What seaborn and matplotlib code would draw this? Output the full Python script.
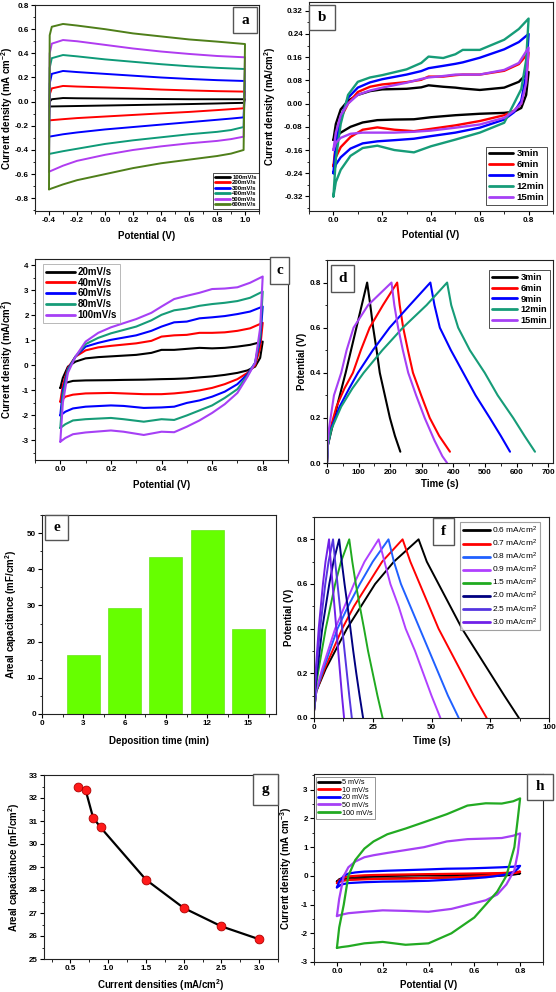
import matplotlib
matplotlib.use("Agg")
import matplotlib.pyplot as plt
import seaborn as sns
from matplotlib.ticker import MultipleLocator, AutoMinorLocator, FormatStrFormatter
from matplotlib.patches import Rectangle

# ---------------- panel a : CV at different scan rates ----------------
a_labels = ["100mV/s", "200mV/s", "300mV/s", "400mV/s", "500mV/s", "600mV/s"]
a_colors = ["#000000", "#FF0000", "#0000FF", "#0E9A78", "#B03CF0", "#4F7F1A"]
a_up_x = [-0.4, -0.395, -0.38, -0.3, -0.2, 0.0, 0.2, 0.4, 0.6, 0.8, 1.0]
a_dn_x = [1.0, 0.99, 0.9, 0.8, 0.6, 0.4, 0.2, 0.0, -0.2, -0.3, -0.4]
a_up = [
    [-0.04, 0.0, 0.02, 0.03, 0.028, 0.026, 0.024, 0.022, 0.02, 0.02, 0.02],
    [-0.155, 0.06, 0.11, 0.13, 0.125, 0.118, 0.11, 0.10, 0.093, 0.087, 0.083],
    [-0.29, 0.15, 0.23, 0.254, 0.245, 0.23, 0.215, 0.20, 0.188, 0.178, 0.171],
    [-0.433, 0.28, 0.36, 0.386, 0.375, 0.35, 0.33, 0.31, 0.293, 0.28, 0.27],
    [-0.58, 0.40, 0.48, 0.51, 0.50, 0.47, 0.44, 0.415, 0.395, 0.378, 0.367],
    [-0.726, 0.55, 0.62, 0.643, 0.63, 0.60, 0.565, 0.54, 0.515, 0.497, 0.477],
]
a_dn = [
    [0.02, -0.01, -0.012, -0.015, -0.02, -0.024, -0.028, -0.032, -0.036, -0.038, -0.04],
    [0.083, -0.055, -0.062, -0.07, -0.085, -0.097, -0.11, -0.123, -0.136, -0.145, -0.155],
    [0.171, -0.13, -0.14, -0.15, -0.17, -0.19, -0.21, -0.23, -0.255, -0.27, -0.29],
    [0.27, -0.21, -0.235, -0.25, -0.27, -0.295, -0.32, -0.35, -0.39, -0.41, -0.433],
    [0.367, -0.29, -0.31, -0.325, -0.345, -0.37, -0.40, -0.44, -0.49, -0.53, -0.58],
    [0.477, -0.40, -0.43, -0.45, -0.48, -0.51, -0.55, -0.60, -0.65, -0.685, -0.726],
]

# ---------------- panel b : CV for deposition times ----------------
b_labels = ["3min", "6min", "9min", "12min", "15min"]
b_colors = ["#000000", "#FF0000", "#0000FF", "#169C78", "#A640F5"]
b_up_x = [0.0, 0.01, 0.03, 0.06, 0.1, 0.15, 0.2, 0.3, 0.36, 0.39, 0.45, 0.5, 0.53, 0.6, 0.7, 0.76, 0.8]
b_dn_x = [0.8, 0.79, 0.77, 0.74, 0.7, 0.6, 0.5, 0.4, 0.33, 0.25, 0.18, 0.12, 0.07, 0.03, 0.01, 0.0]
b_up = [
    [-0.125, -0.07, -0.02, 0.01, 0.03, 0.043, 0.049, 0.051, 0.056, 0.063, 0.058, 0.055, 0.052, 0.047, 0.055, 0.075, 0.109],
    [-0.216, -0.14, -0.05, 0.0, 0.04, 0.058, 0.066, 0.074, 0.082, 0.093, 0.093, 0.098, 0.10, 0.10, 0.113, 0.136, 0.176],
    [-0.24, -0.14, -0.05, 0.02, 0.055, 0.073, 0.084, 0.10, 0.112, 0.122, 0.13, 0.137, 0.142, 0.158, 0.187, 0.212, 0.24],
    [-0.32, -0.19, -0.07, 0.03, 0.075, 0.09, 0.098, 0.118, 0.14, 0.162, 0.157, 0.17, 0.185, 0.185, 0.22, 0.257, 0.293],
    [-0.16, -0.10, -0.04, 0.0, 0.03, 0.045, 0.055, 0.072, 0.085, 0.09, 0.095, 0.10, 0.10, 0.10, 0.116, 0.14, 0.193],
]
b_dn = [
    [0.109, 0.03, -0.015, -0.028, -0.032, -0.035, -0.04, -0.047, -0.054, -0.055, -0.057, -0.065, -0.08, -0.10, -0.115, -0.125],
    [0.176, 0.08, 0.0, -0.025, -0.04, -0.06, -0.075, -0.087, -0.095, -0.09, -0.082, -0.09, -0.115, -0.15, -0.185, -0.216],
    [0.24, 0.10, 0.01, -0.03, -0.055, -0.083, -0.10, -0.112, -0.121, -0.126, -0.13, -0.137, -0.155, -0.185, -0.21, -0.24],
    [0.293, 0.15, 0.05, 0.0, -0.066, -0.10, -0.124, -0.147, -0.168, -0.16, -0.145, -0.153, -0.18, -0.228, -0.27, -0.32],
    [0.193, 0.07, 0.0, -0.025, -0.049, -0.072, -0.083, -0.093, -0.097, -0.10, -0.10, -0.10, -0.104, -0.118, -0.135, -0.16],
]

# ---------------- panel c : CV at 20-100 mV/s ----------------
c_labels = ["20mV/s", "40mV/s", "60mV/s", "80mV/s", "100mV/s"]
c_colors = ["#000000", "#FF0000", "#0000FF", "#169C78", "#A640F5"]
c_up_x = [0.0, 0.01, 0.03, 0.06, 0.1, 0.15, 0.2, 0.3, 0.36, 0.4, 0.45, 0.5, 0.55, 0.6, 0.65, 0.7, 0.75, 0.8]
c_dn_x = [0.8, 0.79, 0.77, 0.74, 0.7, 0.65, 0.6, 0.55, 0.5, 0.45, 0.4, 0.33, 0.25, 0.2, 0.1, 0.05, 0.02, 0.0]
c_up = [
    [-0.9, -0.5, -0.05, 0.15, 0.28, 0.33, 0.36, 0.42, 0.5, 0.62, 0.62, 0.66, 0.70, 0.68, 0.70, 0.75, 0.82, 0.95],
    [-1.45, -0.8, -0.1, 0.35, 0.6, 0.72, 0.78, 0.88, 0.98, 1.15, 1.2, 1.22, 1.3, 1.3, 1.32, 1.38, 1.48, 1.7],
    [-2.0, -1.0, -0.15, 0.35, 0.75, 0.9, 1.02, 1.2, 1.38, 1.55, 1.72, 1.75, 1.88, 1.92, 1.97, 2.05, 2.15, 2.35],
    [-2.5, -1.2, -0.2, 0.35, 0.85, 1.1, 1.28, 1.55, 1.8, 2.02, 2.2, 2.27, 2.38, 2.45, 2.5, 2.57, 2.7, 2.95],
    [-3.05, -1.5, -0.3, 0.35, 0.95, 1.3, 1.52, 1.85, 2.1, 2.35, 2.65, 2.78, 2.9, 3.05, 3.07, 3.12, 3.3, 3.55],
]
c_dn = [
    [0.95, 0.3, -0.05, -0.2, -0.3, -0.38, -0.44, -0.48, -0.52, -0.54, -0.55, -0.57, -0.58, -0.59, -0.6, -0.62, -0.7, -0.9],
    [1.7, 0.7, 0.0, -0.3, -0.55, -0.75, -0.9, -1.0, -1.07, -1.12, -1.15, -1.15, -1.12, -1.1, -1.12, -1.17, -1.25, -1.45],
    [2.35, 1.0, 0.1, -0.35, -0.75, -1.05, -1.25, -1.4, -1.5, -1.65, -1.68, -1.7, -1.62, -1.6, -1.65, -1.72, -1.85, -2.0],
    [2.95, 1.2, 0.1, -0.4, -0.95, -1.3, -1.6, -1.8, -2.0, -2.18, -2.15, -2.25, -2.15, -2.1, -2.15, -2.2, -2.35, -2.5],
    [3.55, 1.5, 0.1, -0.45, -1.1, -1.55, -1.9, -2.2, -2.45, -2.67, -2.65, -2.78, -2.65, -2.6, -2.68, -2.75, -2.9, -3.05],
]

# ---------------- panel d : GCD for deposition times ----------------
d_labels = ["3min", "6min", "9min", "12min", "15min"]
d_colors = ["#000000", "#FF0000", "#0000FF", "#169C78", "#A640F5"]
d_t = [
    [0, 3, 15, 35, 59, 76, 93, 110, 127, 137, 146, 157, 167, 183, 199, 215, 232],
    [0, 3, 10, 30, 55, 82, 107, 135, 177, 222, 230, 241, 256, 272, 298, 325, 355, 389],
    [0, 3, 12, 40, 70, 98, 145, 198, 262, 327, 340, 357, 392, 431, 470, 515, 550, 579],
    [0, 3, 14, 45, 80, 116, 175, 240, 315, 380, 393, 415, 452, 499, 540, 589, 625, 658],
    [0, 2, 6, 22, 45, 62, 84, 130, 204, 213, 225, 240, 257, 282, 309, 340, 365, 380],
]
d_v = [
    [0.0, 0.08, 0.15, 0.27, 0.4, 0.5, 0.6, 0.7, 0.8, 0.7, 0.6, 0.5, 0.4, 0.3, 0.2, 0.12, 0.05],
    [0.0, 0.08, 0.15, 0.25, 0.33, 0.4, 0.5, 0.6, 0.7, 0.8, 0.7, 0.6, 0.5, 0.4, 0.3, 0.2, 0.12, 0.05],
    [0.0, 0.08, 0.15, 0.25, 0.33, 0.4, 0.5, 0.6, 0.7, 0.8, 0.7, 0.6, 0.5, 0.4, 0.3, 0.2, 0.12, 0.05],
    [0.0, 0.08, 0.15, 0.25, 0.33, 0.4, 0.5, 0.6, 0.7, 0.8, 0.7, 0.6, 0.5, 0.4, 0.3, 0.2, 0.12, 0.05],
    [0.0, 0.08, 0.15, 0.3, 0.4, 0.5, 0.6, 0.7, 0.8, 0.7, 0.6, 0.5, 0.4, 0.3, 0.2, 0.1, 0.03, 0.0],
]

# ---------------- panel e : areal capacitance vs deposition time ----------------
e_time = [3, 6, 9, 12, 15]
e_cap = [16.2, 29.3, 43.4, 50.8, 23.5]

# ---------------- panel f : GCD at current densities ----------------
f_labels = ["0.6 mA/cm$^2$", "0.7 mA/cm$^2$", "0.8 mA/cm$^2$", "0.9 mA/cm$^2$",
            "1.5 mA/cm$^2$", "2.0 mA/cm$^2$", "2.5 mA/cm$^2$", "3.0 mA/cm$^2$"]
f_colors = ["#000000", "#FF0000", "#2060FF", "#B040FF", "#20AA20", "#000080", "#5535E0", "#7020E8"]
f_v = [0.03, 0.12, 0.22, 0.4, 0.5, 0.6, 0.7, 0.8, 0.7, 0.6, 0.5, 0.4, 0.3, 0.2, 0.1, 0.0]
f_t = [
    [0, 1, 5, 14, 20, 26, 34, 44.5, 48, 53, 58, 63, 69, 75, 81, 87.2],
    [0, 1, 4.5, 12, 17, 23, 29, 37.7, 41, 45, 49, 53, 58, 63, 68, 73.5],
    [0, 1, 4, 10, 14.5, 19.5, 25, 31.7, 34, 37, 41, 45, 49, 53, 57, 61.6],
    [0, 0.8, 3.5, 9, 13, 17, 21.5, 27.5, 30, 32.5, 36, 39, 43, 46.5, 50, 53.8],
    [0, 0.5, 2, 5, 7, 9, 11.5, 15, 16.3, 17.8, 19.5, 21.3, 23, 25, 27, 29.2],
    [0, 0.4, 1.5, 3.5, 5, 6.5, 8.3, 10.7, 11.8, 13, 14.3, 15.5, 16.7, 18, 19.4, 20.9],
    [0, 0.3, 1, 2.6, 3.7, 4.8, 6.2, 8.1, 9, 10, 11, 12, 13, 14, 15, 16.1],
    [0, 0.2, 0.8, 2, 2.9, 3.8, 4.9, 6.4, 7.1, 7.9, 8.7, 9.5, 10.3, 11.1, 11.9, 12.8],
]

# ---------------- panel g : areal capacitance vs current density ----------------
g_j = [0.6, 0.7, 0.8, 0.9, 1.5, 2.0, 2.5, 3.0]
g_c = [32.48, 32.36, 31.15, 30.72, 28.45, 27.22, 26.42, 25.86]

# ---------------- panel h : CV device ----------------
h_labels = ["5 mV/s", "10 mV/s", "20 mV/s", "50 mV/s", "100 mV/s"]
h_colors = ["#000000", "#FF0000", "#0000FF", "#A640F5", "#22AA22"]
h_up_x = [0.0, 0.01, 0.03, 0.05, 0.08, 0.12, 0.16, 0.22, 0.3, 0.38, 0.48, 0.57, 0.65, 0.72, 0.77, 0.8]
h_dn_x = [0.8, 0.79, 0.775, 0.74, 0.7, 0.65, 0.6, 0.5, 0.4, 0.3, 0.2, 0.12, 0.05, 0.02, 0.0]
h_up = [
    [-0.2, -0.12, -0.06, -0.04, -0.03, -0.02, -0.01, 0.0, 0.01, 0.02, 0.03, 0.04, 0.05, 0.06, 0.07, 0.09],
    [-0.25, -0.15, -0.06, -0.02, 0.0, 0.02, 0.03, 0.04, 0.05, 0.06, 0.07, 0.08, 0.09, 0.10, 0.12, 0.15],
    [-0.4, -0.2, 0.0, 0.08, 0.12, 0.15, 0.16, 0.18, 0.20, 0.22, 0.25, 0.26, 0.28, 0.30, 0.32, 0.35],
    [-1.4, -0.8, 0.0, 0.3, 0.5, 0.65, 0.72, 0.8, 0.9, 1.0, 1.2, 1.28, 1.3, 1.32, 1.4, 1.48],
    [-2.51, -1.8, -1.0, 0.0, 0.55, 0.95, 1.2, 1.45, 1.65, 1.87, 2.15, 2.45, 2.53, 2.52, 2.6, 2.7],
]
h_dn = [
    [0.09, 0.07, 0.05, 0.02, 0.0, -0.02, -0.03, -0.05, -0.07, -0.08, -0.09, -0.10, -0.12, -0.15, -0.2],
    [0.15, 0.12, 0.10, 0.06, 0.03, 0.0, -0.02, -0.05, -0.07, -0.09, -0.10, -0.12, -0.14, -0.18, -0.25],
    [0.35, 0.25, 0.15, 0.05, 0.0, -0.05, -0.08, -0.13, -0.17, -0.19, -0.20, -0.22, -0.25, -0.30, -0.4],
    [1.48, 0.8, 0.2, -0.3, -0.65, -0.85, -0.95, -1.15, -1.25, -1.22, -1.2, -1.25, -1.3, -1.35, -1.4],
    [2.7, 2.0, 1.0, 0.0, -0.55, -1.0, -1.45, -2.0, -2.35, -2.4, -2.3, -2.35, -2.45, -2.48, -2.51],
]

# ======================= styling / drawing =======================
sns.set_theme(style="ticks")
plt.rcParams["font.family"] = ["Liberation Sans", "DejaVu Sans"]
plt.rcParams["font.weight"] = "bold"
plt.rcParams["mathtext.default"] = "regular"
for k in ["text.color", "axes.labelcolor", "xtick.color", "ytick.color", "axes.edgecolor"]:
    plt.rcParams[k] = "black"

W, H = 556, 992
fig = plt.figure(figsize=(W / 100, H / 100), dpi=100)
fig.patch.set_facecolor("white")

TICK_FS = 5.8
LAB_FS = 7.0


def make_axes(l, t, r, b):
    return fig.add_axes([l / W, 1 - b / H, (r - l) / W, (b - t) / H])


def style(ax, xlim, ylim, xmaj, ymaj, xfmt, yfmt, xlabel, ylabel, xl_y, yl_x,
          xminor=2, yminor=2):
    ax.set_xlim(*xlim)
    ax.set_ylim(*ylim)
    ax.xaxis.set_major_locator(MultipleLocator(xmaj))
    ax.yaxis.set_major_locator(MultipleLocator(ymaj))
    ax.xaxis.set_minor_locator(AutoMinorLocator(xminor))
    ax.yaxis.set_minor_locator(AutoMinorLocator(yminor))
    ax.xaxis.set_major_formatter(FormatStrFormatter(xfmt))
    ax.yaxis.set_major_formatter(FormatStrFormatter(yfmt))
    ax.tick_params(which="major", direction="out", length=3, width=0.8,
                   labelsize=TICK_FS, pad=1.5)
    ax.tick_params(which="minor", direction="out", length=1.8, width=0.6)
    for lbl in ax.get_xticklabels() + ax.get_yticklabels():
        lbl.set_fontweight("bold")
    for s in ax.spines.values():
        s.set_visible(True)
        s.set_linewidth(0.8)
        s.set_color("#222222")
    ax.set_xlabel(xlabel, fontsize=LAB_FS, fontweight="bold")
    ax.set_ylabel(ylabel, fontsize=LAB_FS, fontweight="bold")
    ax.xaxis.set_label_coords(0.5, xl_y)
    ax.yaxis.set_label_coords(yl_x, 0.5)
    ax.set_facecolor("white")


def loop(ax, xu, yu, xd, yd, color, label, lw=1.5):
    sns.lineplot(x=list(xu) + list(xd), y=list(yu) + list(yd), sort=False,
                 estimator=None, color=color, lw=lw, label=label, ax=ax)


def label_box(l, t, r, b, text, fs=11):
    rect = Rectangle((l / W, 1 - b / H), (r - l) / W, (b - t) / H, transform=fig.transFigure,
                     facecolor="white", edgecolor="#555555", lw=1.0, zorder=10)
    fig.add_artist(rect)
    fig.text((l + r) / 2 / W, 1 - (t + b) / 2 / H, text, ha="center", va="center",
             fontsize=fs, fontweight="bold", family=["Liberation Serif", "DejaVu Serif"], zorder=11)


def legend(ax, fs, loc, bbox, frame_ec="black", weight="bold", hl=2.2, spacing=0.15):
    leg = ax.legend(loc=loc, bbox_to_anchor=bbox, fontsize=fs, frameon=True, fancybox=False,
                    handlelength=hl, handletextpad=0.3, labelspacing=spacing, borderpad=0.3,
                    borderaxespad=0.0, prop={"size": fs, "weight": weight})
    leg.get_frame().set_edgecolor(frame_ec)
    leg.get_frame().set_linewidth(0.6)
    for line in leg.get_lines():
        line.set_linewidth(2.0)
    return leg


# ---- a
ax = make_axes(35, 5, 259, 211)
for lab, col, yu, yd in zip(a_labels, a_colors, a_up, a_dn):
    loop(ax, a_up_x, yu, a_dn_x, yd, col, lab, lw=1.4)
style(ax, (-0.5, 1.1), (-0.905, 0.8), 0.2, 0.2, "%.1f", "%.1f",
      "Potential (V)", "Current density (mA cm$^{-2}$)", -0.095, -0.09)
legend(ax, 4.3, "lower right", (0.998, 0.01), hl=2.6, spacing=0.05)

# ---- b
ax = make_axes(309, 2, 553, 211)
for lab, col, yu, yd in zip(b_labels, b_colors, b_up, b_dn):
    loop(ax, b_up_x, yu, b_dn_x, yd, col, lab, lw=1.7)
style(ax, (-0.1, 0.9), (-0.37, 0.35), 0.2, 0.08, "%.1f", "%.2f",
      "Potential (V)", "Current density (mA/cm$^2$)", -0.09, -0.125)
legend(ax, 6.8, "lower right", (0.975, 0.03), hl=2.6, spacing=0.2)

# ---- c
ax = make_axes(35, 259, 288, 460)
for lab, col, yu, yd in zip(c_labels, c_colors, c_up, c_dn):
    loop(ax, c_up_x, yu, c_dn_x, yd, col, lab, lw=1.5)
style(ax, (-0.1, 0.9), (-3.78, 4.25), 0.2, 1, "%.1f", "%d",
      "Potential (V)", "Current density (mA/cm$^2$)", -0.1, -0.078)
legend(ax, 7, "upper left", (0.03, 0.975), frame_ec="#999999", hl=3.0, spacing=0.08)

# ---- d
ax = make_axes(327, 260, 553, 463)
for lab, col, t, v in zip(d_labels, d_colors, d_t, d_v):
    sns.lineplot(x=t, y=v, sort=False, estimator=None, color=col, lw=1.5, label=lab, ax=ax)
style(ax, (0, 715), (0, 0.9), 100, 0.2, "%d", "%.1f",
      "Time (s)", "Potential (V)", -0.08, -0.09)
legend(ax, 6.6, "upper right", (0.985, 0.95), hl=2.8, spacing=0.2)

# ---- e
ax = make_axes(42, 515, 276, 714)
sns.barplot(x=e_time, y=e_cap, native_scale=True, color="#66FF00", saturation=1,
            width=0.8, ax=ax, edgecolor="#55DD00", linewidth=0.4)
style(ax, (0, 17), (0, 55), 3, 10, "%d", "%d",
      "Deposition time (min)", "Areal capacitance (mF/cm$^2$)", -0.11, -0.1)

# ---- f
ax = make_axes(314, 517, 549, 718)
for lab, col, t in zip(f_labels, f_colors, f_t):
    sns.lineplot(x=t, y=f_v, sort=False, estimator=None, color=col, lw=1.4, label=lab, ax=ax)
style(ax, (0, 100), (0, 0.9), 25, 0.2, "%d", "%.1f",
      "Time (s)", "Potential (V)", -0.09, -0.085)
leg = legend(ax, 6.0, "upper right", (0.96, 0.975), frame_ec="#888888", weight="normal", hl=3.2, spacing=0.22)
leg.get_frame().set_linewidth(0.8)

# ---- g
ax = make_axes(44, 775, 278, 959)
sns.lineplot(x=g_j, y=g_c, sort=False, estimator=None, color="black", lw=1.6, ax=ax)
sns.scatterplot(x=g_j, y=g_c, color="#FF1A1A", s=40, edgecolor="#B00000", linewidth=0.6,
                zorder=3, ax=ax)
style(ax, (0.15, 3.25), (25, 33), 0.5, 1, "%.1f", "%d",
      "Current densities (mA/cm$^2$)", "Areal capacitance (mF/cm$^2$)", -0.1, -0.095)

# ---- h
ax = make_axes(314, 774, 543, 962)
for lab, col, yu, yd in zip(h_labels, h_colors, h_up, h_dn):
    loop(ax, h_up_x, yu, h_dn_x, yd, col, lab, lw=1.6)
style(ax, (-0.1, 0.9), (-3.0, 3.55), 0.2, 1, "%.1f", "%d",
      "Potential (V)", "Current density (mA cm$^{-3}$)", -0.095, -0.087)
legend(ax, 5.2, "upper left", (0.01, 0.985), frame_ec="#666666", weight="normal", hl=3.0, spacing=0.08)

# ---- panel letters
label_box(233, 7, 257, 33, "a")
label_box(309, 5, 335, 30, "b")
label_box(270, 257, 289, 284, "c")
label_box(331, 265, 354, 292, "d")
label_box(45, 515, 68, 540, "e")
label_box(433, 518, 454, 545, "f")
label_box(253, 774, 278, 805, "g")
label_box(527, 774, 553, 800, "h")

fig.savefig("out.png", dpi=100, facecolor="white")
